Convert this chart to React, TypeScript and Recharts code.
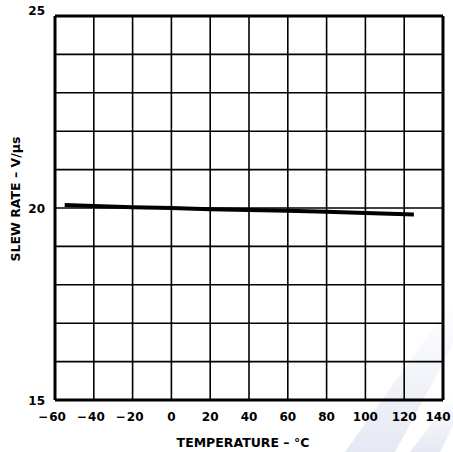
import { LineChart, Line, XAxis, YAxis, CartesianGrid, ReferenceLine } from 'recharts';

// slew rate vs temperature
const temperature = [-55, -40, -20, 0, 20, 40, 60, 80, 100, 125];
const slewRate = [20.08, 20.05, 20.02, 20.0, 19.97, 19.95, 19.93, 19.9, 19.87, 19.83];

const xTicks = [-60, -40, -20, 0, 20, 40, 60, 80, 100, 120, 140];
const yTicks = [15, 16, 17, 18, 19, 20, 21, 22, 23, 24, 25];
const yLabels = [15, 20, 25];

const data = temperature.map((t, i) => ({ t, sr: slewRate[i] }));

const FONT = '"DejaVu Sans", "Liberation Sans", Arial, sans-serif';
const textStyle = { fill: '#000', fontFamily: FONT, fontWeight: 700 };

const fmtX = (v: number) => (v < 0 ? `\u2212\u200a${Math.abs(v)}` : `${v}`);

const XTick = ({ x, y, payload }: any) => {
  const v = payload.value;
  // keep the outer labels inside the page, like the scan
  const dx = v === 140 ? -5 : v < 0 ? -3 : 0;
  return (
    <text x={x + dx} y={y} dy="0.71em" textAnchor="middle" style={{ ...textStyle, fontSize: 12 }}>
      {fmtX(v)}
    </text>
  );
};

const YTick = ({ x, y, payload }: any) => {
  const v = payload.value;
  if (!yLabels.includes(v)) return null;
  // the top label sits a little above its gridline in the original
  const dy = v === 25 ? -5 : 1;
  return (
    <text x={x} y={y + dy} textAnchor="end" dominantBaseline="central" style={{ ...textStyle, fontSize: 12 }}>
      {v}
    </text>
  );
};

export default function App() {
  return (
    <div style={{ position: 'absolute', left: 0, top: 0, width: 453, height: 452, background: '#fff', overflow: 'hidden' }}>
      {/* faint scanned watermark, bottom right */}
      <svg width={453} height={452} style={{ position: 'absolute', left: 0, top: 0 }}>
        <defs>
          <linearGradient id="wm" x1="0" y1="1" x2="0" y2="0">
            <stop offset="0" stopColor="#dfe3f0" stopOpacity={0.8} />
            <stop offset="1" stopColor="#dfe3f0" stopOpacity={0} />
          </linearGradient>
        </defs>
        <polygon points="345,452 395,452 453,345 453,300" fill="url(#wm)" />
        <polygon points="410,452 440,452 453,425 453,395" fill="url(#wm)" />
      </svg>
      <div style={{ position: 'absolute', left: 0, top: 0 }}>
        <LineChart width={453} height={452} data={data} margin={{ top: 16, right: 10, bottom: 0, left: 0 }}>
          <CartesianGrid stroke="#000" strokeWidth={1.6} />
          <XAxis
            dataKey="t"
            type="number"
            domain={[-60, 140]}
            ticks={xTicks}
            tick={<XTick />}
            tickLine={false}
            axisLine={false}
            tickSize={12}
            tickMargin={0}
            height={52}
            interval={0}
            label={({ viewBox }: any) => (
              <text
                x={viewBox.x + viewBox.width / 2 - 6}
                y={442}
                textAnchor="middle"
                dominantBaseline="central"
                style={{ ...textStyle, fontSize: 12.5 }}
              >
                TEMPERATURE – °C
              </text>
            )}
          />
          <YAxis
            type="number"
            domain={[15, 25]}
            ticks={yTicks}
            tick={<YTick />}
            tickLine={false}
            axisLine={false}
            tickSize={8}
            tickMargin={2}
            width={55}
            interval={0}
            label={() => (
              <text
                x={15}
                y={199}
                transform="rotate(-90 15 199)"
                textAnchor="middle"
                dominantBaseline="central"
                style={{ ...textStyle, fontSize: 12.5 }}
              >
                SLEW RATE – V/µs
              </text>
            )}
          />
          <ReferenceLine x={-60} stroke="#000" strokeWidth={3} />
          <ReferenceLine x={140} stroke="#000" strokeWidth={3} />
          <ReferenceLine y={15} stroke="#000" strokeWidth={3} />
          <ReferenceLine y={25} stroke="#000" strokeWidth={3} />
          <Line
            type="linear"
            dataKey="sr"
            stroke="#000"
            strokeWidth={4}
            dot={false}
            activeDot={false}
            isAnimationActive={false}
          />
        </LineChart>
      </div>
    </div>
  );
}
